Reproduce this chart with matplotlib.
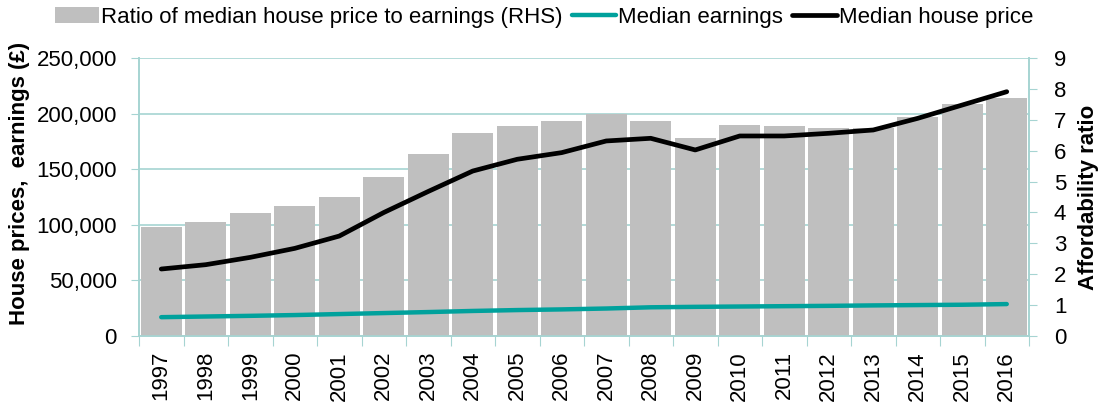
import matplotlib
matplotlib.use("Agg")
import matplotlib.pyplot as plt
from matplotlib.ticker import FuncFormatter, FixedLocator, NullFormatter

years = ["1997", "1998", "1999", "2000", "2001", "2002", "2003", "2004", "2005", "2006",
         "2007", "2008", "2009", "2010", "2011", "2012", "2013", "2014", "2015", "2016"]
ratio = [3.54, 3.69, 3.97, 4.20, 4.49, 5.14, 5.89, 6.58, 6.80, 6.95,
         7.18, 6.95, 6.41, 6.83, 6.80, 6.75, 6.75, 7.10, 7.53, 7.72]
house_price = [60100, 64000, 70600, 78700, 89800, 111000, 130000, 148400, 159000, 165000,
               175500, 177900, 167400, 180000, 180000, 182400, 185400, 195900, 207900, 219900]
earnings = [16700, 17300, 17900, 18600, 19500, 20400, 21300, 22300, 23100, 23700,
            24500, 25600, 26000, 26300, 26600, 26900, 27300, 27600, 27900, 28500]

plt.rcParams['font.family'] = ['Liberation Sans', 'DejaVu Sans']
FS = 16
GRID = '#A6D4D2'
TEAL = '#00A19C'
BAR = '#BFBFBF'

fig = plt.figure(figsize=(11.02, 4.03), dpi=100)
rect = [139/1102, 1 - 335.7/403, (1029-139)/1102, (335.7-58.3)/403]
ax = fig.add_axes(rect)
ax.set_zorder(1)
ax2 = ax.twinx()
ax2.set_zorder(2)
ax2.patch.set_visible(False)
ax3 = ax.twinx()
ax3.set_zorder(3)
ax3.patch.set_visible(False)

x = list(range(len(years)))

# bars on right axis
bars = ax2.bar(x, ratio, width=0.93, color=BAR, linewidth=0,
               label='Ratio of median house price to earnings (RHS)')
ax2.set_ylim(0, 9)
ax2.set_yticks(range(0, 10))
ax2.tick_params(axis='y', labelsize=FS, length=6, color=GRID, pad=12)
ax2.set_ylabel('Affordability ratio', fontsize=FS, fontweight='bold', labelpad=8)

# left axis with grid
ax.set_ylim(0, 250000)
ax.set_yticks(range(0, 250001, 50000))
ax.yaxis.set_major_formatter(FuncFormatter(lambda v, p: f"{int(v):,}"))
ax.tick_params(axis='y', labelsize=FS, length=6, color=GRID, pad=10)
ax.grid(axis='y', color=GRID, linewidth=1.2)
ax.set_axisbelow(True)
ax.set_ylabel('House prices,  earnings (£)', fontsize=FS, fontweight='bold')
ax.yaxis.set_label_coords(-0.123, 0.55)

# lines on top axis
l1, = ax3.plot(x, earnings, color=TEAL, linewidth=3.2, solid_capstyle='round',
               label='Median earnings')
l2, = ax3.plot(x, house_price, color='black', linewidth=3.4, solid_capstyle='round',
               label='Median house price')
ax3.set_ylim(0, 250000)
ax3.set_yticks([])
for s in ax3.spines.values():
    s.set_visible(False)

# x axis
ax.set_xlim(-0.5, len(years) - 0.5)
ax.xaxis.set_major_locator(FixedLocator([i - 0.5 for i in range(len(years) + 1)]))
ax.xaxis.set_major_formatter(NullFormatter())
ax.xaxis.set_minor_locator(FixedLocator(x))
ax.set_xticklabels(years, minor=True, rotation=90, fontsize=FS)
ax.tick_params(axis='x', which='major', length=7, color=GRID)
ax.tick_params(axis='x', which='minor', length=0, pad=11)
for a in (ax2, ax3):
    a.set_xlim(-0.5, len(years) - 0.5)

for a in (ax, ax2):
    for name, s in a.spines.items():
        s.set_color(GRID)
        s.set_linewidth(1.2)
    a.spines['top'].set_visible(False)

fig.legend(handles=[bars, l1, l2], loc='center', bbox_to_anchor=(544/1102, 1 - 17/403),
           ncol=3, frameon=False, fontsize=FS, handlelength=2.0, handletextpad=0.1,
           columnspacing=0.4, borderpad=0, borderaxespad=0)

fig.savefig('out.png', dpi=100)
